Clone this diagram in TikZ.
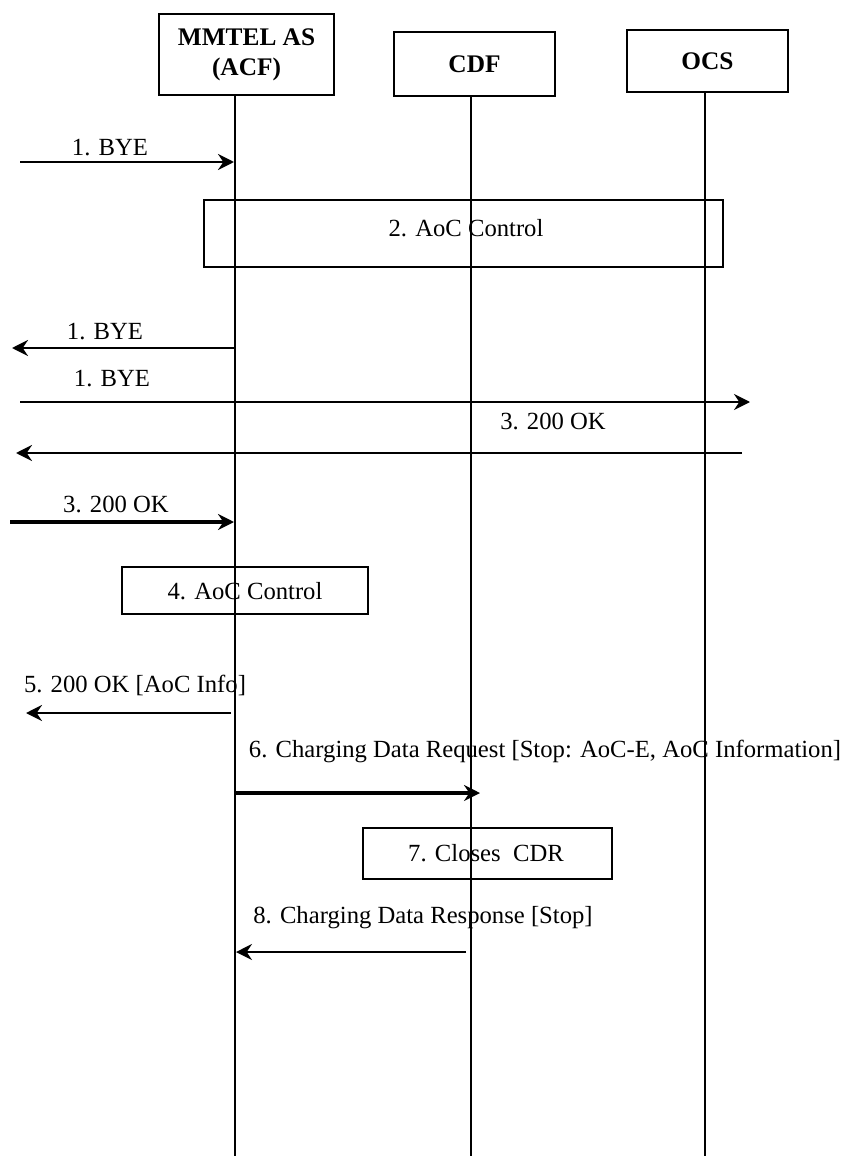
\documentclass[tikz,border=0pt]{standalone}
\usepackage{fontspec}
\setmainfont{Liberation Serif}
\usetikzlibrary{arrows.meta}
\begin{document}
\begin{tikzpicture}[x=0.75pt,y=-0.75pt,
  ent/.style={draw,line width=1.3pt,align=center,inner sep=0pt,font=\fontsize{19}{22.5}\selectfont\bfseries},
  act/.style={draw,line width=1.1pt,inner sep=0pt,font=\fontsize{18.5}{22}\selectfont},
  lbl/.style={inner sep=0pt,font=\fontsize{18.5}{22}\selectfont},
  life/.style={line width=1.1pt},
  tip/.style={-{Stealth[length=12pt,width=12pt,inset=4pt]}},
  msg/.style={tip,line width=2pt},
  msgthick/.style={tip,line width=3pt},
  msgthin/.style={tip,line width=1.5pt}]
\useasboundingbox (0,0) rectangle (850,1162);

% entities
\node[ent,minimum width=131.25pt,minimum height=60.75pt] (mmtel) at (246.5,54.5) {MMTEL AS\\(ACF)};
\node[ent,minimum width=120.75pt,minimum height=48pt] (cdf) at (474.5,64) {CDF};
\node[ent,minimum width=120.75pt,minimum height=46.5pt] (ocs) at (707.5,61) {OCS};

% lifelines
\coordinate (mEnd) at (235,1156);
\coordinate (cEnd) at (471,1156);
\coordinate (oEnd) at (705,1156);
\draw[life] (mmtel.south -| mEnd) -- (mEnd);
\draw[life] (cdf.south -| cEnd) -- (cEnd);
\draw[life] (ocs.south -| oEnd) -- (oEnd);

% 1. BYE (in)
\coordinate (a1s) at (20,162);
\coordinate (a1e) at (234,162);
\draw[msg] (a1s) -- (a1e);
\node[lbl] (l1) at (110,148) {1. BYE};

% 2. AoC Control
\node[act,minimum width=389.25pt,minimum height=50.25pt] (b2) at (463.5,233.5) {};
\node[lbl] (t2) at (466,228) {2. AoC Control};

% 1. BYE (out left)
\coordinate (a2s) at (235,348);
\coordinate (a2e) at (12,348);
\draw[msg] (a2s) -- (a2e);
\node[lbl] (l2) at (105,332) {1. BYE};

% 1. BYE (to right)
\coordinate (a3s) at (20,402);
\coordinate (a3e) at (750,402);
\draw[msg] (a3s) -- (a3e);
\node[lbl] (l3) at (112,379) {1. BYE};

% 3. 200 OK (from right)
\coordinate (a4s) at (742,453);
\coordinate (a4e) at (16,453);
\draw[msg] (a4s) -- (a4e);
\node[lbl] (l4) at (553,421) {3. 200 OK};

% 3. 200 OK (in)
\coordinate (a5s) at (10,522);
\coordinate (a5e) at (234,522);
\draw[msgthick] (a5s) -- (a5e);
\node[lbl] (l5) at (116,504) {3. 200 OK};

% 4. AoC Control
\node[act,minimum width=184.5pt,minimum height=35.25pt] (b4) at (245,590.5) {};
\node[lbl] (t4) at (245,591) {4. AoC Control};

% 5. 200 OK [AoC Info]
\coordinate (a6s) at (231,713);
\coordinate (a6e) at (26,713);
\draw[msg] (a6s) -- (a6e);
\node[lbl] (l6) at (135,685) {5. 200 OK [AoC Info]};

% 6. Charging Data Request
\node[lbl] (l7) at (545,751) {6. Charging Data Request [Stop: AoC-E, AoC Information]};
\coordinate (a7s) at (235,793);
\coordinate (a7e) at (480,793);
\draw[msgthick] (a7s) -- (a7e);

% 7. Closes CDR
\node[act,minimum width=186.75pt,minimum height=38.25pt] (b7) at (487.5,853.5) {};
\node[lbl] (t7) at (486,853) {7. Closes\ \ CDR};

% 8. Charging Data Response
\node[lbl] (l8) at (423,918) {8. Charging Data Response [Stop]};
\coordinate (a8s) at (466,952);
\coordinate (a8e) at (236,952);
\draw[msgthin] (a8s) -- (a8e);
\end{tikzpicture}
\end{document}
